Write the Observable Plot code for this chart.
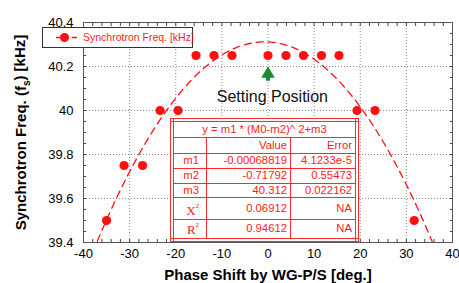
<!DOCTYPE html>
<html><head><meta charset="utf-8">
<script src="https://cdn.jsdelivr.net/npm/d3@7"></script>
<script src="https://cdn.jsdelivr.net/npm/@observablehq/plot@0.6"></script>
<style>
body{margin:0;background:#fff;}
#wrap{position:relative;width:459px;height:283px;font-family:"Liberation Sans",Arial,sans-serif;}
#legend{position:absolute;left:42px;top:27px;width:149px;height:19px;border:1px solid #333;background:#fff;box-sizing:content-box;}
#legend span{position:absolute;left:40px;top:3px;font-family:"Liberation Sans",Arial,sans-serif;font-size:10.5px;color:#ff1a1a;white-space:nowrap;}
#legend svg{position:absolute;left:0;top:0;}
#fit{position:absolute;left:170px;top:118px;border-collapse:collapse;border:4px double #ff2a2a;background:#fff;font-family:"Liberation Sans",Arial,sans-serif;font-size:11.3px;color:#ff1a1a;}
#fit td{font-family:"Liberation Sans",Arial,sans-serif;border:1px solid #ff2a2a;padding:0 3px;text-align:right;line-height:11px;white-space:nowrap;}
#fit td.c1{padding-right:7px;}
#fit .sv{font-family:"Liberation Serif","Times New Roman",serif;font-size:13px;}
#fit sup{font-family:"Liberation Sans",Arial,sans-serif;font-size:6px;vertical-align:7px;}
</style>
</head><body>
<div id="wrap"></div>
<script>
// ---- data ----
const phaseDeg = [-35, -31.2, -27.2, -23.4, -19.5, -15.6, -11.7, -7.8, 0, 3.9, 7.7, 11.6, 15.4, 19.3, 23.2, 31.7];
const freqKHz  = [39.5, 39.75, 39.75, 40, 40, 40.25, 40.25, 40.25, 40.25, 40.25, 40.25, 40.25, 40.25, 40, 40, 39.5];
const paramNames  = ["m1", "m2", "m3"];
const paramValues = ["-0.00068819", "-0.71792", "40.312"];
const paramErrors = ["4.1233e-5", "0.55473", "0.022162"];
const statNames  = ["X", "R"];
const statValues = ["0.06912", "0.94612"];
const statErrors = ["NA", "NA"];
const fitTitle = "y = m1 * (M0-m2)^ 2+m3";
const xTicks = [-40, -30, -20, -10, 0, 10, 20, 30, 40];
const yTicks = [39.4, 39.6, 39.8, 40, 40.2, 40.4];
const xMinor = [-40,-38,-36,-34,-32,-30,-28,-26,-24,-22,-20,-18,-16,-14,-12,-10,-8,-6,-4,-2,0,2,4,6,8,10,12,14,16,18,20,22,24,26,28,30,32,34,36,38,40];
const yMinor = [39.4,39.45,39.5,39.55,39.6,39.65,39.7,39.75,39.8,39.85,39.9,39.95,40,40.05,40.1,40.15,40.2,40.25,40.3,40.35,40.4];
const settingPhase = 0;
const legendLabel = "Synchrotron Freq. [kHz]";
const xTitle = "Phase Shift by WG-P/S [deg.]";
const yTitle = "Synchrotron Freq. (fs) [kHz]";

const RED = "#ff1010", GREEN = "#1a8a2e";
const points = phaseDeg.map((x, i) => ({x, y: freqKHz[i]}));
// fitted curve from the parameters shown in the fit table
const [m1, m2, m3] = paramValues.map(Number);
const fitLine = d3.range(-38, 37.01, 0.25).map(x => ({x, y: m1 * (x - m2) ** 2 + m3}));

const gridStyle = {stroke: "#8a8a8a", strokeOpacity: 1, strokeDasharray: "1,2"};
const plot = Plot.plot({
  width: 459, height: 283,
  marginLeft: 83, marginRight: 7, marginTop: 22, marginBottom: 41,
  style: {fontFamily: '"Liberation Sans", Arial, sans-serif', fontSize: "13px", background: "transparent", color: "#000"},
  x: {domain: [-40, 40]},
  y: {domain: [39.4, 40.4]},
  marks: [
    Plot.gridX(xTicks, gridStyle),
    Plot.gridY(yTicks, gridStyle),
    Plot.line(fitLine, {x: "x", y: "y", stroke: RED, strokeWidth: 1.3, strokeDasharray: "7,5", clip: true}),
    Plot.dot(points, {x: "x", y: "y", r: 4.6, fill: RED}),
    Plot.ruleX([settingPhase], {y1: 40.133, y2: 40.16, stroke: GREEN, strokeWidth: 4}),
    Plot.dot([settingPhase], {x: d => d, y: () => 40.166, symbol: "triangle", r: 5, fill: GREEN}),
    Plot.text(["Setting Position"], {x: () => 0.95, y: () => 40.06, fontSize: 16, fill: "#111"}),
    Plot.axisX(xMinor, {anchor: "bottom", tickSize: -3, fill: "none", label: null, stroke: "#444"}),
    Plot.axisX(xMinor, {anchor: "top", tickSize: -3, fill: "none", label: null, stroke: "#444"}),
    Plot.axisY(yMinor, {anchor: "left", tickSize: -3, fill: "none", label: null, stroke: "#444"}),
    Plot.axisY(yMinor, {anchor: "right", tickSize: -3, fill: "none", label: null, stroke: "#444"}),
    Plot.axisX(xTicks, {anchor: "bottom", tickSize: 0, tickPadding: 6, label: null, tickFormat: d => String(d)}),
    Plot.axisY(yTicks, {anchor: "left", tickSize: 0, tickPadding: 10, label: null, tickFormat: d => String(+d.toFixed(1))}),
    Plot.frame({stroke: "#555"}),
    Plot.text([xTitle], {frameAnchor: "bottom", dy: 33, fontSize: 15, fontWeight: "bold", lineAnchor: "middle"}),
    Plot.text([yTitle], {frameAnchor: "left", dx: -62, rotate: -90, textAnchor: "middle", lineAnchor: "middle", fontSize: 15, fontWeight: "bold"})
  ]
});
document.getElementById("wrap").appendChild(plot);

// subscript "s" in y title
d3.select(plot).selectAll("text").filter(function(){ return this.textContent === yTitle; }).each(function(){
  const t = d3.select(this); t.text(null);
  t.append("tspan").text("Synchrotron Freq. (f");
  t.append("tspan").attr("dy", "0.35em").attr("font-size", "10px").text("s");
  t.append("tspan").attr("dy", "-0.35em").text(") [kHz]");
});

// legend
const wrap = document.getElementById("wrap");
const leg = document.createElement("div"); leg.id = "legend";
leg.innerHTML = `<svg width="40" height="19"><line x1="13" y1="9.5" x2="35" y2="9.5" stroke="${RED}" stroke-width="1.3" stroke-dasharray="5,3"/><circle cx="21.5" cy="9.5" r="4.5" fill="${RED}"/></svg><span>${legendLabel}</span>`;
wrap.appendChild(leg);

// fit table
const heights = [17, 16, 15, 15, 14, 22, 18];
let html = `<tr style="height:${heights[0]}px"><td colspan="3" style="text-align:center">${fitTitle}</td></tr>`;
html += `<tr style="height:${heights[1]}px"><td class="c1" style="width:22px"></td><td style="width:77px">Value</td><td style="width:58px">Error</td></tr>`;
paramNames.forEach((n, i) => {
  html += `<tr style="height:${heights[2 + i]}px"><td class="c1">${n}</td><td>${paramValues[i]}</td><td>${paramErrors[i]}</td></tr>`;
});
statNames.forEach((n, i) => {
  html += `<tr style="height:${heights[5 + i]}px"><td class="c1" style="vertical-align:bottom;padding-bottom:2px"><span class="sv">${n}</span><sup>2</sup></td><td>${statValues[i]}</td><td>${statErrors[i]}</td></tr>`;
});
const tbl = document.createElement("table"); tbl.id = "fit"; tbl.innerHTML = html;
wrap.appendChild(tbl);
</script>
</body></html>
